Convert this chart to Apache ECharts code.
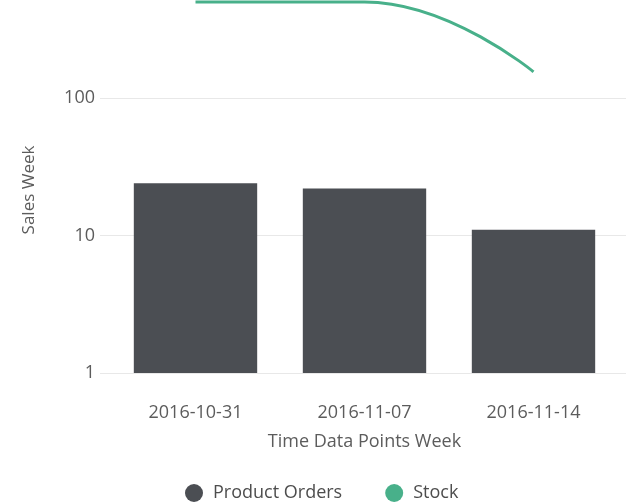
<!DOCTYPE html>
<html>
<head>
<meta charset="utf-8">
<script src="https://cdn.jsdelivr.net/npm/echarts@6/dist/echarts.min.js"></script>
<style>html,body{margin:0;padding:0;background:#fff}#c{width:626px;height:503px}</style>
</head>
<body>
<div id="c"></div>
<script>
const categories = ['2016-10-31', '2016-11-07', '2016-11-14'];
const productOrders = [24, 22, 11];
const stock = [500, 500, 155];
const yTickLabels = ['1', '10', '100'];

const FONT = '"Open Sans", "Noto Sans", sans-serif';
const Y_MIN = 1, Y_MAX = 516;
const chart = echarts.init(document.getElementById('c'), null, {renderer: 'canvas'});
chart.setOption({
  animation: false,
  backgroundColor: '#ffffff',
  grid: [
    {left: 111, right: 8, top: 0, bottom: 130, containLabel: false},
    {left: 100, right: 0, top: 0, bottom: 130, containLabel: false}
  ],
  legend: {
    left: 180, top: 479,
    itemWidth: 28, itemHeight: 18, itemGap: 43,
    icon: 'circle',
    textStyle: {fontFamily: FONT, fontSize: 18, color: '#4d4d4d'},
    data: ['Product Orders', 'Stock']
  },
  xAxis: [{
    type: 'category',
    gridIndex: 0,
    data: categories,
    name: 'Time Data Points Week',
    nameLocation: 'middle',
    nameGap: 60,
    nameTextStyle: {fontFamily: FONT, fontSize: 18, color: '#5c5c5c'},
    axisLine: {show: false},
    axisTick: {show: false},
    axisLabel: {fontFamily: FONT, fontSize: 18, color: '#5c5c5c', margin: 31}
  }, {
    type: 'category', gridIndex: 1, data: categories, show: false
  }],
  yAxis: [{
    type: 'log',
    gridIndex: 0,
    logBase: 10,
    min: Y_MIN,
    max: Y_MAX,
    axisLine: {show: false},
    axisTick: {show: false},
    splitLine: {show: false},
    axisLabel: {
      fontFamily: FONT, fontSize: 18, color: '#5c5c5c', margin: 16,
      showMaxLabel: false,
      formatter: function (v) {
        const s = String(Math.round(v));
        return yTickLabels.indexOf(s) >= 0 ? s : '';
      }
    }
  }, {
    type: 'log',
    gridIndex: 1,
    logBase: 10,
    min: Y_MIN,
    max: Y_MAX,
    axisLine: {show: false},
    axisTick: {show: false},
    axisLabel: {show: false},
    splitLine: {show: true, showMaxLine: false, lineStyle: {color: '#e8e8e8', width: 1}}
  }],
  graphic: [{
    type: 'text',
    x: 29, y: 190,
    rotation: Math.PI / 2,
    style: {text: 'Sales Week', fontFamily: FONT, fontSize: 17, fill: '#5c5c5c', align: 'center', verticalAlign: 'middle'}
  }],
  series: [
    {
      name: 'Product Orders', type: 'bar', data: productOrders,
      xAxisIndex: 0, yAxisIndex: 0,
      barCategoryGap: '27%',
      itemStyle: {color: '#4b4e53'}
    },
    {
      name: 'Stock', type: 'line', data: stock,
      xAxisIndex: 0, yAxisIndex: 0,
      smooth: 0.5, smoothMonotone: 'x',
      showSymbol: false, symbol: 'circle',
      lineStyle: {color: '#48b08a', width: 3},
      itemStyle: {color: '#48b08a'}
    }
  ]
});
</script>
</body>
</html>
